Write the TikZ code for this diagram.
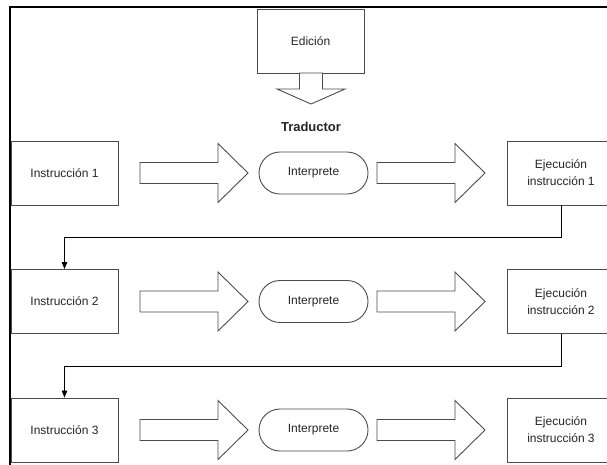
\documentclass[tikz,border=0pt]{standalone}
\usepackage{fontspec}
\setmainfont{Liberation Sans}
\usetikzlibrary{arrows.meta}
\tikzset{
  shapeline/.style={draw=black!70, line width=0.9pt},
  boxnode/.style={shapeline, fill=white, minimum width=107pt, minimum height=64pt, inner sep=0pt,
    align=center, text=black!85, font=\fontsize{12}{17}\selectfont},
  termnode/.style={shapeline, fill=white, rounded corners=21pt, minimum width=109pt, minimum height=42pt,
    inner sep=0pt, text=black!85, font=\fontsize{12}{14}\selectfont},
  conn/.style={draw=black, line width=0.8pt, -{Triangle[length=7pt,width=5.5pt]}},
  blockarr/.pic={\draw[shapeline, fill=white] (0,-10.5) -- (78,-10.5) -- (78,-29.5) -- (108,0) -- (78,29.5) -- (78,10.5) -- (0,10.5) -- cycle;},
  downarr/.pic={\draw[shapeline, fill=white] (-11.5,0) -- (11.5,0) -- (11.5,16) -- (34,16) -- (0,31) -- (-34,16) -- (-11.5,16) -- cycle;}
}
\begin{document}
\begin{tikzpicture}[x=1pt,y=-1pt]
\useasboundingbox (0,0) rectangle (607,464);
\begin{scope}
\clip (0,0) rectangle (607,464);
\fill[white] (0,0) rectangle (607,464);
\draw[line width=2.6pt, black] (10,480) -- (10,7) -- (620,7);

\node[boxnode] (edicion) at (310.5,41) {Edición};
\pic at (311,73) {downarr};
\node[font=\fontsize{13}{15}\selectfont\bfseries, text=black!85] (traductor) at (311,127) {Traductor};

% row 1
\node[boxnode] (ins1) at (64.5,173) {Instrucción 1};
\pic at (140,173) {blockarr};
\node[termnode] (int1) at (313.5,173) {Interprete};
\pic at (377,173) {blockarr};
\node[boxnode] (ej1) at (561,173) {Ejecución\\instrucción 1};

% row 2
\node[boxnode] (ins2) at (64.5,301.5) {Instrucción 2};
\pic at (140,301.5) {blockarr};
\node[termnode] (int2) at (313.5,301.5) {Interprete};
\pic at (377,301.5) {blockarr};
\node[boxnode] (ej2) at (561,301.5) {Ejecución\\instrucción 2};

% row 3
\node[boxnode] (ins3) at (64.5,430) {Instrucción 3};
\pic at (140,430) {blockarr};
\node[termnode] (int3) at (313.5,430) {Interprete};
\pic at (377,430) {blockarr};
\node[boxnode] (ej3) at (561,430) {Ejecución\\instrucción 3};

\coordinate (c1) at (0,237);
\coordinate (c2) at (0,366);
\draw[conn] (ej1.south) -- (ej1.south |- c1) -| (ins2.north);
\draw[conn] (ej2.south) -- (ej2.south |- c2) -| (ins3.north);
\end{scope}
\end{tikzpicture}
\end{document}
